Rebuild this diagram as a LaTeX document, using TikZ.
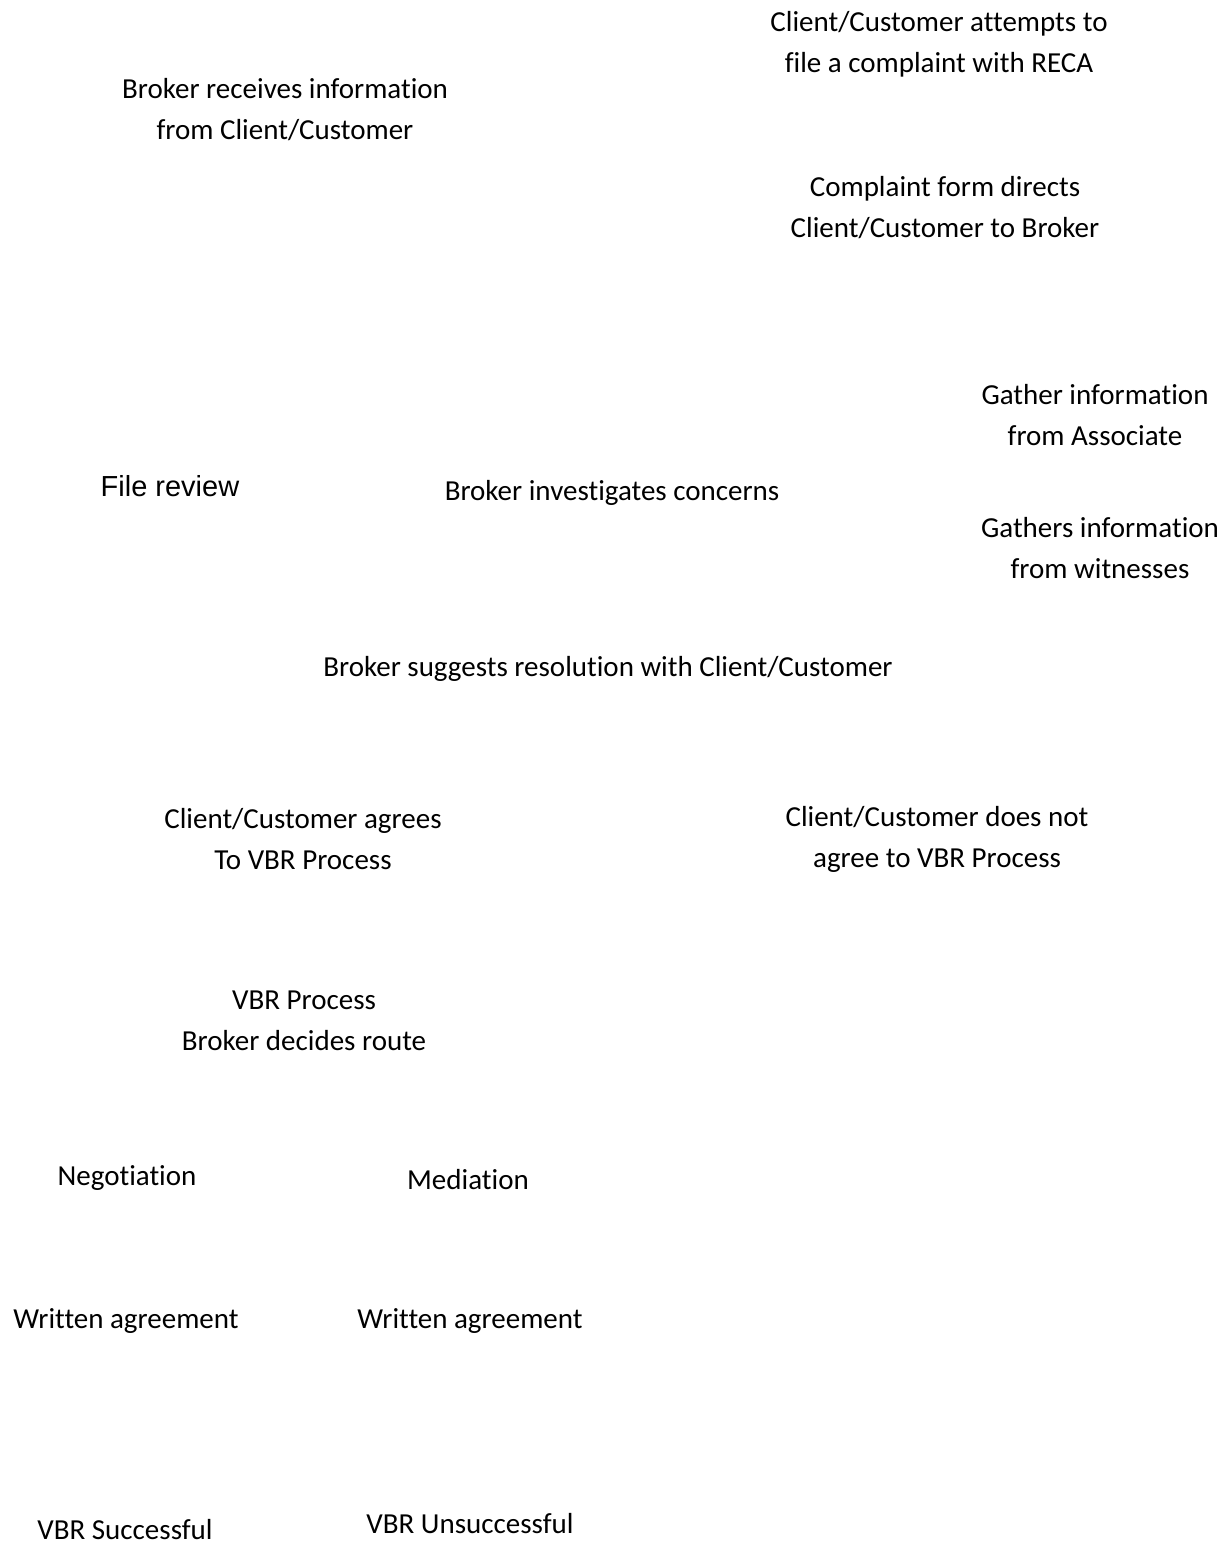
\documentclass[tikz,border=0pt]{standalone}
\usepackage{fontspec}
\setmainfont{Carlito}[Ligatures=NoCommon]
\newfontfamily\arialfont{Liberation Sans}
\usepackage{tikz}

\tikzset{
  steptext/.style={align=center, inner sep=0pt, font=\fontsize{29}{41}\selectfont},
  arialtext/.style={align=center, inner sep=0pt, font=\arialfont\fontsize{29}{35}\selectfont}
}

\begin{document}
\begin{tikzpicture}[x=1pt, y=-1pt]

        \useasboundingbox (0, 0) rectangle (1231, 1558);

        % Top row: complaint and broker intake
        \node[steptext] (attempt) at (939, 44) {Client/Customer attempts to \\ file a complaint with RECA};
        \node[steptext] (receive) at (285, 110) {Broker receives information \\ from Client/Customer};
        \node[steptext] (directs) at (945, 208) {Complaint form directs \\ Client/Customer to Broker};

        % Investigation
        \node[steptext] (associate) at (1095, 415) {Gather information \\ from Associate};
        \node[arialtext] (review) at (170, 486) {File review};
        \node[steptext] (investigate) at (612, 493) {Broker investigates concerns};
        \node[steptext] (witnesses) at (1100, 548) {Gathers information \\ from witnesses};

        % Resolution
        \node[steptext] (suggest) at (608, 669) {Broker suggests resolution with Client/Customer};
        \node[steptext] (agrees) at (303, 839) {Client/Customer agrees \\ To VBR Process};
        \node[steptext] (disagrees) at (937, 839) {Client/Customer does not \\ agree to VBR Process};

        % VBR process
        \node[steptext] (route) at (304, 1021) {VBR Process \\ Broker decides route};
        \node[steptext] (negotiation) at (127, 1178) {Negotiation};
        \node[steptext] (mediation) at (468, 1180) {Mediation};
        \node[steptext] (writtenA) at (126, 1321) {Written agreement};
        \node[steptext] (writtenB) at (470, 1321) {Written agreement};

        % Outcomes
        \node[steptext] (success) at (125, 1530) {VBR Successful};
        \node[steptext] (fail) at (470, 1524) {VBR Unsuccessful};

\end{tikzpicture}
\end{document}
